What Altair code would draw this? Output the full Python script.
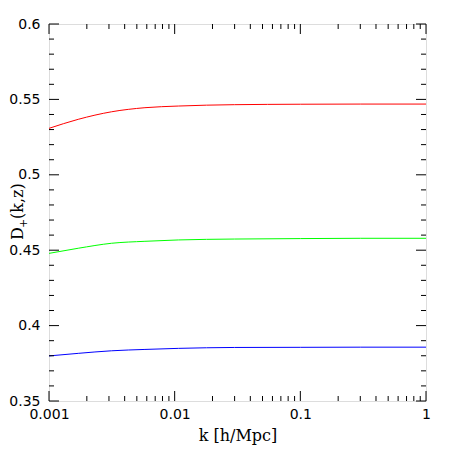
import altair as alt
import pandas as pd

# sampled wavenumbers [h/Mpc]
k_vals = [0.001, 0.00171, 0.00315, 0.0058, 0.0107, 0.030, 0.1, 0.3, 1.0]
d_red = [0.5308, 0.5368, 0.5418, 0.5445, 0.5456, 0.5465, 0.5468, 0.5469, 0.5469]
d_green = [0.4479, 0.4513, 0.4546, 0.4559, 0.4568, 0.4574, 0.4577, 0.4579, 0.4579]
d_blue = [0.3799, 0.3816, 0.3833, 0.3842, 0.3849, 0.3855, 0.3856, 0.3857, 0.3857]

series_names = ["red", "green", "blue"]
series_colors = ["#ff0000", "#00ff00", "#0000ff"]

x_major = [0.001, 0.01, 0.1, 1]
x_minor = [m * d for d in [0.001, 0.01, 0.1] for m in range(2, 10)]
y_major = [0.35, 0.40, 0.45, 0.50, 0.55, 0.60]
y_minor = [round(0.35 + 0.01 * i, 2) for i in range(26) if i % 5 != 0]

x_title = "k [h/Mpc]"
y_title_main = "D"
y_title_sub = "+"
y_title_rest = "(k,z)"

W = 377
H = 377

rows = []
for name, vals in zip(series_names, [d_red, d_green, d_blue]):
    for k, v in zip(k_vals, vals):
        rows.append({"k": k, "D": v, "series": name})
df = pd.DataFrame(rows)

xscale = alt.Scale(type="log", domain=[0.001, 1], nice=False)
yscale = alt.Scale(domain=[0.35, 0.6], nice=False, zero=False)

x_axis = alt.Axis(
    values=x_major, format="~g", ticks=False, domain=False, grid=False,
    labelFont="DejaVu Sans", labelFontSize=14, labelColor="black", labelPadding=6,
    labelFlush=False,
    title=x_title, titleFont="DejaVu Serif", titleFontSize=16,
    titleFontWeight="normal", titleColor="black", titleBaseline="alphabetic", titleY=39,
)
y_axis = alt.Axis(
    values=y_major, format="~g", ticks=False, domain=False, grid=False,
    labelFont="DejaVu Sans", labelFontSize=14, labelColor="black", labelPadding=9,
    labelFlush=False, title=None,
)

lines = alt.Chart(df).mark_line(strokeWidth=1, interpolate="monotone", clip=True).encode(
    x=alt.X("k:Q", scale=xscale, axis=x_axis),
    y=alt.Y("D:Q", scale=yscale, axis=y_axis),
    color=alt.Color("series:N", scale=alt.Scale(domain=series_names, range=series_colors), legend=None),
    detail="series:N",
)

xmaj = pd.DataFrame({"x": x_major})
xmin = pd.DataFrame({"x": x_minor})
ymaj = pd.DataFrame({"y": y_major})
ymin = pd.DataFrame({"y": y_minor})

def xticks(d, length):
    bottom = alt.Chart(d).mark_rule(color="black", strokeWidth=1).encode(
        x=alt.X("x:Q", scale=xscale), y=alt.value(H), y2=alt.value(H - length))
    top = alt.Chart(d).mark_rule(color="black", strokeWidth=1).encode(
        x=alt.X("x:Q", scale=xscale), y=alt.value(0), y2=alt.value(length))
    return bottom + top

def yticks(d, length):
    left = alt.Chart(d).mark_rule(color="black", strokeWidth=1).encode(
        y=alt.Y("y:Q", scale=yscale), x=alt.value(0), x2=alt.value(length))
    right = alt.Chart(d).mark_rule(color="black", strokeWidth=1).encode(
        y=alt.Y("y:Q", scale=yscale), x=alt.value(W), x2=alt.value(W - length))
    return left + right

def title_piece(txt, size, xpos, ypos):
    return alt.Chart(pd.DataFrame({"t": [txt]})).mark_text(
        font="DejaVu Serif", fontSize=size, color="black", angle=270,
        align="left", baseline="alphabetic",
    ).encode(text="t:N", x=alt.value(xpos), y=alt.value(ypos))

ytitle = (
    title_piece(y_title_main, 16, -26, 216)
    + title_piece(y_title_sub, 11, -22, 204)
    + title_piece(y_title_rest, 16, -26, 195)
)

chart = alt.layer(
    lines,
    xticks(xmaj, 10), xticks(xmin, 5),
    yticks(ymaj, 10), yticks(ymin, 5),
    ytitle,
).properties(
    width=W, height=H,
    autosize=alt.AutoSizeParams(type="none"),
    padding={"left": 41, "top": 16, "right": 16, "bottom": 45},
).configure_view(
    stroke="black", strokeWidth=1
).configure(background="white")

chart.save("out.html", embed_options={"renderer": "svg", "actions": False})
